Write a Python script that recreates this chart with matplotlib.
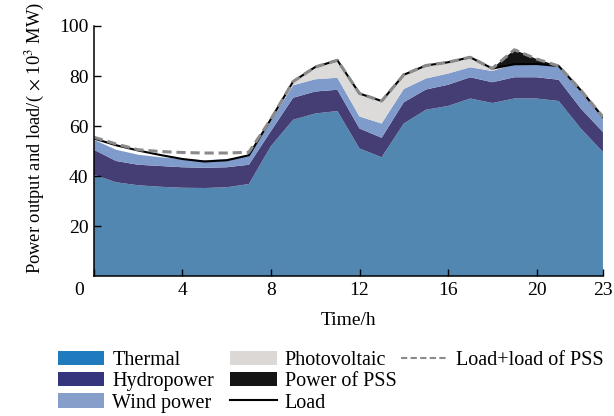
import matplotlib
matplotlib.use('Agg')
import matplotlib.pyplot as plt
from matplotlib.patches import Patch
from matplotlib.lines import Line2D
import numpy as np

plt.rcParams['font.family'] = ['Liberation Serif', 'DejaVu Serif']
plt.rcParams['mathtext.fontset'] = 'stix'

hours = np.arange(24)
thermal = [40.5, 37.5, 36.3, 35.7, 35.3, 35.2, 35.5, 36.8, 52.0, 62.5, 65.0, 66.0,
           51.0, 47.5, 61.0, 66.5, 68.0, 71.0, 69.2, 71.0, 71.0, 70.0, 59.0, 49.6]
hydro = [10.0, 8.5, 8.2, 8.3, 8.2, 8.1, 8.0, 7.7, 6.0, 8.8, 8.8, 8.5,
         8.0, 7.8, 8.5, 8.1, 8.5, 8.5, 8.3, 8.5, 8.5, 8.5, 8.0, 8.0]
wind = [4.0, 4.5, 4.0, 3.5, 3.3, 3.0, 3.3, 3.5, 4.0, 5.0, 4.9, 4.8,
        4.8, 5.7, 5.3, 4.4, 4.5, 4.0, 4.5, 5.2, 5.3, 5.5, 7.3, 6.0]
pv = [0, 0, 0, 0, 0, 0, 0, 0, 0.8, 1.8, 4.9, 7.0,
      9.2, 9.0, 5.7, 5.2, 4.5, 4.0, 1.0, 0, 0, 0, 0, 0]
pss = [0, 0, 0, 0, 0, 0, 0, 0, 0, 0, 0, 0,
       0, 0, 0, 0, 0, 0, 0, 5.8, 2.0, 0, 0, 0]
load = [55.0, 52.3, 50.2, 48.4, 46.8, 45.8, 46.3, 48.3, 62.8, 77.8, 83.6, 86.3,
        73.0, 70.0, 80.5, 84.2, 85.5, 87.5, 83.0, 84.7, 84.8, 84.0, 74.3, 63.6]
load_pss = [55.5, 52.8, 50.5, 49.8, 49.4, 49.2, 49.2, 49.5, 62.8, 77.8, 83.6, 86.3,
            73.0, 70.0, 80.5, 84.2, 85.5, 87.5, 83.0, 90.5, 86.8, 84.0, 74.3, 63.6]

fill_colors = ['#5287b2', '#453e74', '#7f9bcb', '#dddada', '#151515']
legend_colors = ['#1f7bbd', '#35357d', '#879ecb', '#dcd8d6', '#141414']

fig = plt.figure(figsize=(6.14, 4.16), dpi=100)
ax = fig.add_axes([0.153, 0.3365, 0.829, 0.601])

ax.stackplot(hours, thermal, hydro, wind, pv, pss, colors=fill_colors, linewidth=0)
ax.plot(hours, load, color='black', lw=1.5)
ax.plot(hours, load_pss, color='#8a8a8a', lw=2.2, dashes=(3, 1.6))

ax.set_xlim(0, 23)
ax.set_ylim(0, 100)
ax.set_xticks([0, 4, 8, 12, 16, 20, 23])
ax.set_xticklabels(['', '4', '8', '12', '16', '20', '23'])
ax.set_yticks([20, 40, 60, 80, 100])
ax.tick_params(direction='in', labelsize=14, length=5, width=1, pad=4)
ax.annotate('0', xy=(0, 0), xycoords='data', xytext=(-11, -4), textcoords='offset points',
            ha='center', va='top', fontsize=14)
for s in ['top', 'right']:
    ax.spines[s].set_visible(False)
for s in ['left', 'bottom']:
    ax.spines[s].set_linewidth(1.1)

ax.set_xlabel('Time/h', fontsize=14, labelpad=10)
ax.set_ylabel(r'Power output and load/($\,\times\,$10$^3$ MW)', fontsize=13.3)
ax.yaxis.set_label_coords(-0.093, 0.55)

handles = [Patch(facecolor=legend_colors[0]), Patch(facecolor=legend_colors[1]),
           Patch(facecolor=legend_colors[2]), Patch(facecolor=legend_colors[3]),
           Patch(facecolor=legend_colors[4]),
           Line2D([], [], color='black', lw=1.5)]
labels = ['Thermal', 'Hydropower', 'Wind power', 'Photovoltaic', 'Power of PSS', 'Load']
fig.legend(handles, labels, ncol=2, loc='upper left', bbox_to_anchor=(0.078, 0.18),
           frameon=False, fontsize=14.5, handlelength=2.3, handleheight=0.7,
           labelspacing=0.1, columnspacing=0.8, handletextpad=0.4, borderpad=0)
fig.legend([Line2D([], [], color='#8a8a8a', lw=1.5, dashes=(3, 1.6))], ['Load+load of PSS'],
           loc='upper left', bbox_to_anchor=(0.637, 0.18), frameon=False, fontsize=14.5,
           handlelength=2.3, handletextpad=0.4, borderpad=0)

fig.savefig('out.png', dpi=100)
